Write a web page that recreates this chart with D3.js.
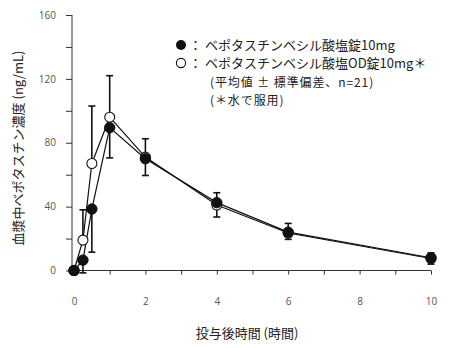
<!DOCTYPE html>
<html><head><meta charset="utf-8">
<script src="https://cdn.jsdelivr.net/npm/d3@7"></script>
<style>body{margin:0;background:#fff}svg{display:block}</style>
</head><body>
<svg id="c" width="450" height="348"></svg>
<script>
const times = [0, 0.25, 0.5, 1, 2, 4, 6, 10];
const tabletMean = [0, 6.5, 38.5, 89.5, 70, 42.5, 24, 8];
const tabletSD = [0, 8, 27, 19, 10.5, 9, 4.5, 4];
const odMean = [0, 19, 67, 96, 71, 41, 23.5, 7.5];
const odSD = [0, 19, 36, 26, 11.5, 7.7, 6, 3.5];
const xTicks = [0,1,2,3,4,5,6,7,8,9,10];
const xLabels = [0,2,4,6,8,10];
const yTicks = [0,20,40,60,80,100,120,140,160];
const yLabels = [0,40,80,120,160];
const legendLines = ["ベポタスチンベシル酸塩錠10mg", "ベポタスチンベシル酸塩OD錠10mg＊"];
const noteLines = ["(平均値 ± 標準偏差、n=21)", "(＊水で服用)"];
const xTitle = "投与後時間 (時間)";
const yTitle = "血漿中ベポタスチン濃度 (ng/mL)";

const svg = d3.select("#c");
const x = d3.scaleLinear().domain([0,10]).range([74,431]);
const y = d3.scaleLinear().domain([0,160]).range([270.5,15]);
const font = "'Noto Sans CJK JP', 'Noto Sans', sans-serif";
const axisX0 = 72;

// Y axis
const ya = svg.append("g").attr("transform",`translate(${axisX0},0)`)
  .call(d3.axisLeft(y).tickValues(yTicks).tickSize(6).tickFormat(d => yLabels.includes(d) ? d : ""));
ya.select(".domain").attr("d",`M0,${y(0)}V${y(160)}`).attr("stroke","#333");
ya.selectAll(".tick line").attr("stroke","#333");
ya.selectAll(".tick text").attr("x",-16).attr("fill","#555").style("font-size","10px").style("font-family","'Open Sans', sans-serif");

// X axis
const xa = svg.append("g").attr("transform",`translate(0,${y(0)})`)
  .call(d3.axisBottom(x).tickValues(xTicks).tickSize(4).tickFormat(d => xLabels.includes(d) ? d : ""));
xa.select(".domain").attr("d",`M${axisX0-4},0H${x(10)}`).attr("stroke","#333");
xa.selectAll(".tick line").attr("stroke","#333");
xa.selectAll(".tick text").attr("y",27).attr("fill","#555").style("font-size","10px").style("font-family","'Open Sans', sans-serif");

// titles
svg.append("text").attr("x",247).attr("y",338).attr("text-anchor","middle")
  .style("font-family",font).style("font-size","13px").attr("fill","#222").text(xTitle);
svg.append("text").attr("transform","translate(23,148) rotate(-90)").attr("text-anchor","middle")
  .style("font-family",font).style("font-size","13px").attr("fill","#222").text(yTitle);

const cap = 3.5;
function errBars(mean, sd, dir){
  const g = svg.append("g").attr("stroke","#111").attr("stroke-width",1.6);
  times.forEach((t,i)=>{
    if(!sd[i]) return;
    const v0 = mean[i], v1 = mean[i] + dir*sd[i];
    g.append("line").attr("x1",x(t)).attr("x2",x(t)).attr("y1",y(v0)).attr("y2",y(v1));
    g.append("line").attr("x1",x(t)-cap).attr("x2",x(t)+cap).attr("y1",y(v1)).attr("y2",y(v1));
  });
}
errBars(odMean, odSD, 1);
errBars(tabletMean, tabletSD, -1);

const line = d3.line().x((d,i)=>x(times[i])).y(d=>y(d));
svg.append("path").datum(odMean).attr("d",line).attr("fill","none").attr("stroke","#111").attr("stroke-width",1.2);
svg.append("path").datum(tabletMean).attr("d",line).attr("fill","none").attr("stroke","#111").attr("stroke-width",1.2);

svg.append("g").selectAll("circle").data(odMean).join("circle")
  .attr("cx",(d,i)=>x(times[i])).attr("cy",d=>y(d)).attr("r",5)
  .attr("fill","#fff").attr("stroke","#111").attr("stroke-width",1.1);
svg.append("g").selectAll("circle").data(tabletMean).join("circle")
  .attr("cx",(d,i)=>x(times[i])).attr("cy",d=>y(d)).attr("r",5.2)
  .attr("fill","#111").attr("stroke","#111").attr("stroke-width",1);

// legend
const lg = svg.append("g").style("font-family",font).attr("fill","#222");
const ly = [45, 63];
lg.append("circle").attr("cx",181).attr("cy",ly[0]).attr("r",5).attr("fill","#111");
lg.append("circle").attr("cx",181).attr("cy",ly[1]).attr("r",4.6).attr("fill","#fff").attr("stroke","#111").attr("stroke-width",1.1);
legendLines.forEach((s,i)=>{
  lg.append("text").attr("x",189).attr("y",ly[i]).attr("dy","0.35em").style("font-size","13px").text("：");
  lg.append("text").attr("x",205).attr("y",ly[i]).attr("dy","0.35em").style("font-size","13px").text(s);
});
noteLines.forEach((s,i)=>{
  lg.append("text").attr("x",210).attr("y",83+i*18).attr("dy","0.35em").style("font-size","12px").style("letter-spacing","0.9px").text(s);
});
</script>
</body></html>
